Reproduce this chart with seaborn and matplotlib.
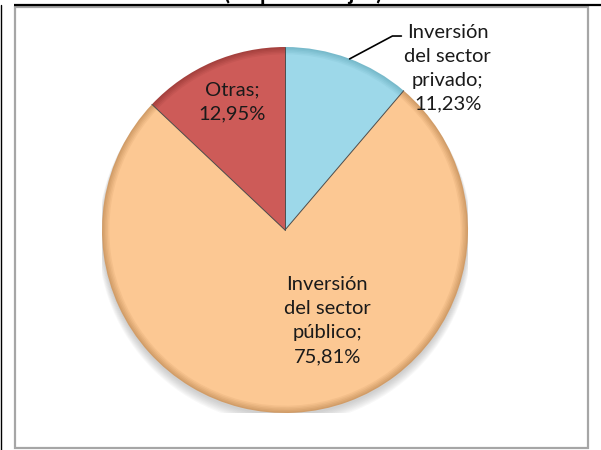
import matplotlib
matplotlib.use('Agg')
import numpy as np
import matplotlib.pyplot as plt
import seaborn as sns
from matplotlib.patches import Rectangle, Circle
from matplotlib.colors import to_rgb

# ---------------------------
# Data
# ---------------------------
labels = ["Inversión\ndel sector\nprivado", "Inversión\ndel sector\npúblico", "Otras"]
shares = [11.23, 75.81, 12.95]
title = "(en porcentajes)"

colors = ["#9DD8E9", "#FCC893", "#CD5B58"]
rims = ["#78BACB", "#D29D68", "#A5413E"]

# label placement (data coords of the pie axes, radius = 1)
label_pos = [(0.89, 0.885), (0.23, -0.497), (-0.29, 0.70)]
leader = [(0.353, 0.935), (0.587, 1.06), (0.636, 1.06)]

# ---------------------------
# Style
# ---------------------------
sns.set_theme(style="white")
plt.rcParams['font.family'] = ['Lato', 'DejaVu Sans']

fig = plt.figure(figsize=(6.01, 4.5), dpi=100)
fig.patch.set_facecolor("white")

# background axes in pixel units for frames and title
bg = fig.add_axes([0, 0, 1, 1])
bg.set_xlim(0, 601)
bg.set_ylim(450, 0)
bg.axis("off")
bg.add_patch(Rectangle((15, 6.5), 573, 441.5, fill=False, ec="#A6A6A6", lw=1.6))
bg.text(303, 0.5, title, ha="center", va="baseline", fontsize=16,
        fontweight="bold", color="black", clip_on=False)
bg.plot([14, 601], [5, 5], color="black", lw=1.6, solid_capstyle="butt")
bg.plot([0.5, 0.5], [5, 450], color="black", lw=1.0)

# ---------------------------
# Pie
# ---------------------------
cx, cy, r = 285, 230, 183
ax = fig.add_axes([(cx - r) / 601, (450 - cy - r) / 450, 2 * r / 601, 2 * r / 450])
ax.set_xlim(-1, 1)
ax.set_ylim(-1, 1)
ax.axis("off")

# soft shadow
for i in range(8):
    ax.add_patch(Circle((0, -0.012 - i * 0.004), 1.0 + i * 0.003,
                        color="#7f7f7f", alpha=0.05, lw=0, zorder=0))

# bevel: layered pies blending from rim colour to fill colour
n_layers = 6
for k in range(n_layers):
    t = k / (n_layers - 1)
    layer_cols = [tuple((1 - t) * np.array(to_rgb(rc)) + t * np.array(to_rgb(fc)))
                  for rc, fc in zip(rims, colors)]
    ax.pie(shares, colors=layer_cols, startangle=90, counterclock=False,
           radius=1.0 - k * 0.008, wedgeprops=dict(linewidth=0),
           frame=False)
ax.set_xlim(-1, 1)
ax.set_ylim(-1, 1)

# slice boundaries
bounds = 90 - 360 * np.cumsum([0] + shares[:-1]) / 100.0
for a in bounds:
    ax.plot([0, np.cos(np.radians(a))], [0, np.sin(np.radians(a))],
            color="#4d4d4d", lw=0.7, zorder=5)

# labels
for lab, val, (lx, ly) in zip(labels, shares, label_pos):
    txt = f"{lab};\n{val:.2f}%".replace(".", ",")
    ax.text(lx, ly, txt, ha="center", va="center", fontsize=14.5,
            linespacing=1.5, color="#1a1a1a", clip_on=False, zorder=6)

lx, ly = zip(*leader)
ax.plot(lx, ly, color="black", lw=1.2, clip_on=False, zorder=6)

fig.savefig("out.png", dpi=100, facecolor="white")
